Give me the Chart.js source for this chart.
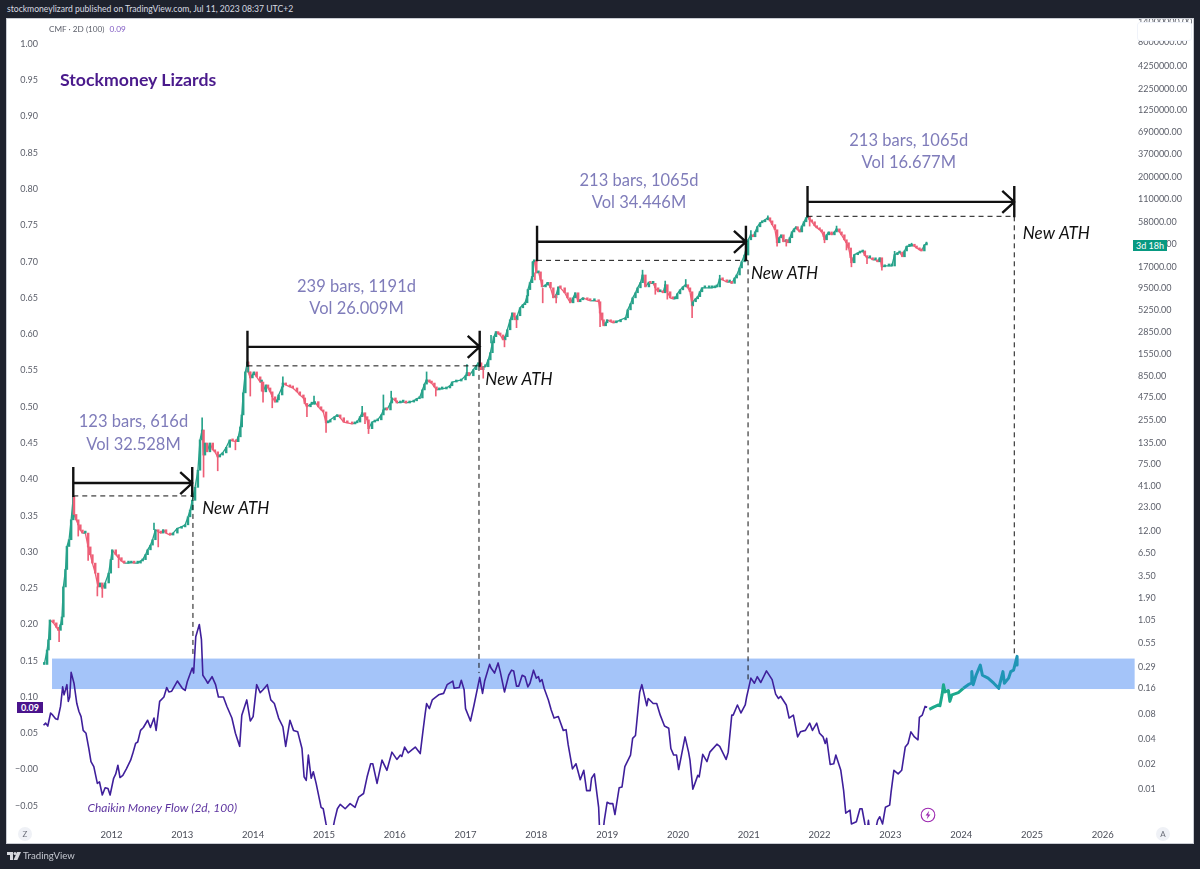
<!DOCTYPE html>
<html>
<head>
<meta charset="utf-8">
<title>Stockmoney Lizards</title>
<script src="https://cdn.jsdelivr.net/npm/chart.js@4"></script>
<style>
  html, body { margin: 0; padding: 0; width: 1200px; height: 869px; overflow: hidden; background: #1e222d; font-family: Lato, sans-serif; }
  #head { position: absolute; left: 7px; top: 4px; color: #d8dbe2; font-size: 8.6px; white-space: nowrap; }
  #panel { position: absolute; left: 7px; top: 19px; width: 1186px; height: 824px; background: #fff; box-shadow: 0 0 0 1px #c9ccd3; overflow: hidden; }
  #panel canvas { position: absolute; left: 0; top: 0; }
  #foot { position: absolute; left: 23px; top: 850px; color: #c4c7cf; font-size: 9.6px; }
  #logo { position: absolute; left: 7px; top: 852px; }
  .abs { position: absolute; }
  #legend { left: 42px; top: 5px; font-size: 8.2px; color: #5d606b; white-space: nowrap; }
  #legend span { color: #7e57c2; margin-left: 5px; }
  #brand { left: 53px; top: 50px; font-size: 17.7px; font-weight: 700; color: #4a1a8c; white-space: nowrap; }
  #tagCmf { left: 10px; top: 683px; width: 26px; height: 11px; line-height: 11px; background: #4a148c; color: #fff; font-size: 9px; font-weight: 700; text-align: center; }
  #tagTime { left: 1126px; top: 221px; width: 34px; height: 11px; line-height: 11px; background: #089981; color: #fff; font-size: 9px; text-align: center; }
  #topBox { left: 1130px; top: 3px; width: 53px; height: 17px; background: #fff; border: 1px solid #f0f3fa; border-radius: 3px; }
  .round { width: 14px; height: 14px; line-height: 14px; border-radius: 7px; background: #eff1f6; color: #6a6d78; font-size: 8px; text-align: center; }
</style>
</head>
<body>
<div id="head">stockmoneylizard published on TradingView.com, Jul 11, 2023 08:37 UTC+2</div>
<div id="panel">
  <canvas id="mycanvas" width="1186" height="824"></canvas>
  <div class="abs" id="legend">CMF · 2D (100)<span>0.09</span></div>
  <div class="abs" id="brand">Stockmoney Lizards</div>
  <div class="abs" id="tagCmf">0.09</div>
  <div class="abs" id="topBox"></div>
  <div class="abs" id="tagTime">3d 18h</div>
  <div class="abs round" style="left:11px;top:808px">Z</div>
  <div class="abs round" style="left:1149px;top:808px">A</div>
  <svg class="abs" style="left:913px;top:788px" width="16" height="16" viewBox="0 0 16 16">
    <circle cx="8" cy="8" r="6.8" fill="#fff" stroke="#9c27b0" stroke-width="1.1"/>
    <path d="M9.2 3.8 L5.6 8.6 H7.8 L6.8 12.2 L10.4 7.4 H8.2 Z" fill="#9c27b0"/>
  </svg>
</div>
<svg id="logo" width="14" height="9" viewBox="0 0 14 9">
  <path d="M0 0 H6 V8 H3 V3 H0 Z" fill="#d6d8de"/>
  <circle cx="8" cy="1.6" r="1.5" fill="#d6d8de"/>
  <path d="M10 0 H14 L10.4 8 H6.6 Z" fill="#d6d8de"/>
</svg>
<div id="foot">TradingView</div>

<script>
// axis labels
var yearTicks = [2012, 2013, 2014, 2015, 2016, 2017, 2018, 2019, 2020, 2021, 2022, 2023, 2024, 2025, 2026];
var cmfTicks = [1, 0.95, 0.9, 0.85, 0.8, 0.75, 0.7, 0.65, 0.6, 0.55, 0.5, 0.45, 0.4, 0.35, 0.3, 0.25, 0.2, 0.15, 0.1, 0.05, 0, -0.05];
var priceTicks = [14000000, 8000000, 4250000, 2250000, 1250000, 690000, 370000, 200000, 110000, 58000, 32000, 17000, 9500, 5250, 2850, 1550, 850, 475, 255, 135, 75, 41, 23, 12, 6.5, 3.5, 1.9, 1.05, 0.55, 0.29, 0.16, 0.08, 0.04, 0.02, 0.01];

// price candles, each one opens at the close before it
var candleYears = [
  2011.05,2011.09,2011.11,2011.13,2011.18,2011.22,2011.25,2011.28,2011.30,2011.32,
  2011.35,2011.37,2011.40,2011.43,2011.46,2011.47,2011.50,2011.53,2011.56,2011.59,
  2011.63,2011.67,2011.70,2011.73,2011.77,2011.81,2011.84,2011.87,2011.91,2011.96,
  2011.99,2012.01,2012.06,2012.10,2012.14,2012.18,2012.24,2012.28,2012.32,2012.37,
  2012.41,2012.44,2012.48,2012.51,2012.55,2012.58,2012.62,2012.66,2012.70,2012.73,
  2012.77,2012.83,2012.87,2012.93,2012.99,2013.04,2013.08,2013.11,2013.14,2013.18,
  2013.22,2013.25,2013.28,2013.30,2013.32,2013.35,2013.39,2013.43,2013.46,2013.50,
  2013.53,2013.57,2013.62,2013.67,2013.71,2013.76,2013.79,2013.82,2013.84,2013.86,
  2013.89,2013.92,2013.93,2013.96,2013.99,2014.01,2014.05,2014.10,2014.12,2014.14,
  2014.18,2014.21,2014.24,2014.27,2014.31,2014.34,2014.36,2014.41,2014.42,2014.46,
  2014.52,2014.56,2014.62,2014.66,2014.71,2014.73,2014.76,2014.81,2014.83,2014.87,
  2014.92,2014.96,2014.99,2015.03,2015.06,2015.09,2015.15,2015.19,2015.23,2015.28,
  2015.33,2015.40,2015.44,2015.47,2015.51,2015.54,2015.58,2015.61,2015.63,2015.68,
  2015.72,2015.76,2015.81,2015.84,2015.87,2015.89,2015.94,2015.96,2016.01,2016.03,
  2016.08,2016.12,2016.16,2016.21,2016.27,2016.31,2016.35,2016.39,2016.42,2016.45,
  2016.49,2016.52,2016.56,2016.59,2016.63,2016.67,2016.73,2016.78,2016.81,2016.87,
  2016.94,2017.00,2017.02,2017.05,2017.11,2017.15,2017.18,2017.22,2017.25,2017.28,
  2017.32,2017.35,2017.38,2017.40,2017.43,2017.46,2017.49,2017.53,2017.56,2017.59,
  2017.63,2017.66,2017.69,2017.70,2017.73,2017.77,2017.81,2017.84,2017.87,2017.88,
  2017.91,2017.94,2017.95,2017.97,2018.00,2018.03,2018.06,2018.08,2018.13,2018.16,
  2018.20,2018.24,2018.28,2018.31,2018.34,2018.40,2018.44,2018.48,2018.52,2018.55,
  2018.59,2018.62,2018.66,2018.72,2018.76,2018.82,2018.88,2018.90,2018.93,2018.95,
  2018.98,2019.00,2019.05,2019.09,2019.13,2019.19,2019.26,2019.29,2019.33,2019.36,
  2019.40,2019.43,2019.47,2019.50,2019.54,2019.59,2019.61,2019.65,2019.68,2019.72,
  2019.75,2019.79,2019.82,2019.85,2019.89,2019.93,2019.96,2019.99,2020.03,2020.07,
  2020.11,2020.14,2020.17,2020.20,2020.21,2020.25,2020.28,2020.31,2020.34,2020.38,
  2020.44,2020.48,2020.52,2020.55,2020.59,2020.63,2020.69,2020.73,2020.76,2020.80,
  2020.83,2020.87,2020.90,2020.94,2020.99,2021.03,2021.06,2021.09,2021.12,2021.16,
  2021.19,2021.23,2021.27,2021.30,2021.33,2021.37,2021.40,2021.43,2021.46,2021.49,
  2021.53,2021.55,2021.58,2021.61,2021.64,2021.67,2021.69,2021.72,2021.75,2021.78,
  2021.81,2021.83,2021.86,2021.89,2021.93,2021.96,2022.00,2022.03,2022.06,2022.07,
  2022.10,2022.13,2022.17,2022.21,2022.24,2022.28,2022.31,2022.35,2022.38,2022.41,
  2022.44,2022.45,2022.49,2022.54,2022.57,2022.61,2022.64,2022.67,2022.71,2022.75,
  2022.79,2022.82,2022.85,2022.88,2022.92,2022.98,2023.02,2023.06,2023.10,2023.13,
  2023.17,2023.20,2023.23,2023.27,2023.30,2023.34,2023.37,2023.41,2023.44,2023.48,2023.51
];
var candleCloses = [
  0.31,0.46,0.61,1.05,0.97,0.86,0.79,0.92,1.14,2.6,
  4.2,7.9,9.5,16.4,31,19,16.4,14.3,12.4,11.4,
  11.4,7.8,6.3,5,3.8,2.6,2.9,2.5,2.9,3.8,
  5.5,7.2,6.3,5.8,5.3,5,5,5.1,5,5,
  5.3,5.5,6.3,7.2,8.2,9.5,12.5,11.8,11.4,12.5,
  11.4,10.8,11.4,13,13.5,14.3,17.8,21.5,28,40,
  64,147,193,97,135,106,135,112,106,92,
  97,103,120,147,143,140,160,210,292,535,
  950,1250,950,806,875,950,830,720,720,550,
  665,612,550,480,415,441,505,630,700,665,
  630,612,550,505,465,400,365,392,392,420,
  365,335,317,235,240,255,278,292,270,240,
  235,228,235,240,278,310,278,255,200,240,
  248,255,292,335,345,335,405,465,430,405,
  415,415,405,415,430,455,465,580,680,764,
  720,700,630,580,595,595,612,650,720,740,
  764,855,935,855,1010,1120,1220,1010,1095,1095,
  1323,1610,2110,2500,2870,2700,2620,2290,2500,3020,
  3970,4800,4320,3970,4440,5520,6010,6340,7680,9100,
  11000,13000,19500,20300,14400,14800,11900,9800,10300,11100,
  9550,7260,7900,9800,9550,8340,7260,6330,7260,8340,
  6520,6880,7260,6880,6700,6700,6520,4800,3970,3370,
  3660,3970,3760,3660,3760,3970,4200,5220,6150,7260,
  8340,9550,11000,13600,9800,11200,10800,10800,9550,8570,
  8800,8340,10400,8570,7260,7070,7070,8100,9040,9800,
  10400,9550,8570,5830,6520,7070,7500,8570,9550,9550,
  9550,9550,9800,9800,12200,11900,11200,11200,10800,12500,
  13600,16500,19500,23500,35700,40900,38800,44300,51000,56900,
  58500,61800,65300,60000,54000,47000,32900,37800,40900,33800,
  35700,32900,37800,44300,48200,51000,47000,44300,52000,58500,
  65300,67300,61800,58500,52500,49600,47000,44300,38800,35700,
  40900,44300,40900,44300,48200,44300,40900,35700,32900,28500,
  21800,19000,23700,24800,25500,26300,23100,21800,21800,20600,
  20600,19500,21800,17000,17400,17400,17400,23700,24800,25500,
  22400,26300,29900,29900,30800,29900,28500,27100,26300,31000,31800
];

// wicks that stand out
var upWickYears = [2012.60, 2013.28, 2013.93, 2014.42, 2014.86, 2015.54, 2015.84, 2015.95, 2016.45, 2017.02, 2017.36, 2019.50, 2019.82, 2020.11, 2020.59, 2021.03, 2021.27, 2021.83, 2022.24, 2023.06, 2023.30, 2023.51];
var upWickLows = [12.5, 193, 950, 700, 392, 310, 335, 465, 764, 935, 2110, 13600, 10400, 10400, 12200, 40900, 65300, 67300, 48200, 23700, 30800, 31800];
var upWickHighs = [15, 270, 1150, 830, 490, 370, 505, 560, 950, 1160, 2600, 15500, 11500, 12000, 13500, 46000, 69000, 70000, 52000, 26000, 32500, 33500];
var downWickYears = [2011.26, 2011.53, 2011.67, 2011.80, 2011.87, 2012.10, 2012.66, 2013.30, 2013.50, 2013.75, 2013.96, 2014.12, 2014.14, 2014.27, 2014.76, 2015.03, 2015.58, 2015.63, 2016.58, 2017.25, 2017.55, 2017.72, 2017.98, 2018.09, 2018.28, 2018.90, 2019.68, 2019.85, 2020.20, 2021.40, 2021.53, 2021.86, 2022.07, 2022.38, 2022.45, 2022.67, 2022.88];
var downWickLows = [0.58, 10.5, 5.4, 2.03, 1.95, 4.4, 7.8, 53, 63, 112, 490, 560, 415, 355, 278, 180, 230, 175, 490, 800, 1890, 3200, 11900, 6330, 6300, 3300, 8000, 7000, 4200, 30000, 30000, 52000, 32900, 27000, 17000, 18500, 15500];
var downWickHighs = [0.79, 14.3, 7.8, 2.6, 2.5, 5.8, 11.8, 97, 92, 140, 950, 720, 550, 480, 365, 235, 278, 200, 580, 1095, 2290, 3970, 14400, 9400, 7900, 4800, 9550, 8570, 5830, 32900, 35700, 61800, 35700, 32900, 19000, 21800, 17000];

// Chaikin Money Flow
var cmfYears = [
  2011.04,2011.07,2011.10,2011.14,2011.17,2011.21,2011.24,2011.28,2011.31,2011.33,2011.37,2011.39,2011.41,2011.43,2011.47,2011.51,2011.54,2011.57,2011.60,2011.64,
  2011.68,2011.71,2011.75,2011.80,2011.83,2011.87,2011.91,2011.95,2011.98,2012.03,2012.06,2012.09,2012.12,2012.16,2012.21,2012.27,2012.30,2012.34,2012.37,2012.41,
  2012.45,2012.51,2012.55,2012.60,2012.63,2012.68,2012.74,2012.78,2012.81,2012.85,2012.93,2013.00,2013.04,2013.07,2013.14,2013.16,2013.19,2013.24,2013.27,2013.29,
  2013.33,2013.36,2013.42,2013.47,2013.51,2013.58,2013.63,2013.70,2013.75,2013.81,2013.84,2013.91,2013.96,2014.00,2014.05,2014.10,2014.14,2014.20,2014.25,2014.30,
  2014.36,2014.42,2014.46,2014.52,2014.57,2014.63,2014.69,2014.72,2014.75,2014.78,2014.82,2014.85,2014.89,2014.96,2014.99,2015.03,2015.07,2015.11,2015.15,2015.19,
  2015.23,2015.30,2015.37,2015.44,2015.49,2015.56,2015.61,2015.66,2015.69,2015.75,2015.82,2015.89,2015.96,2016.03,2016.08,2016.10,2016.14,2016.19,2016.29,2016.36,
  2016.40,2016.43,2016.45,2016.49,2016.53,2016.62,2016.69,2016.74,2016.82,2016.84,2016.91,2016.94,2016.98,2017.00,2017.07,2017.12,2017.20,2017.24,2017.27,2017.34,
  2017.36,2017.41,2017.46,2017.49,2017.55,2017.61,2017.65,2017.68,2017.72,2017.75,2017.80,2017.84,2017.88,2017.91,2017.96,2018.00,2018.03,2018.05,2018.08,2018.11,
  2018.17,2018.21,2018.25,2018.31,2018.38,2018.42,2018.45,2018.51,2018.56,2018.62,2018.67,2018.71,2018.76,2018.78,2018.82,2018.88,2018.89,2018.90,2018.94,2018.96,
  2019.00,2019.04,2019.08,2019.11,2019.17,2019.21,2019.25,2019.33,2019.36,2019.40,2019.46,2019.49,2019.56,2019.58,2019.65,2019.70,2019.75,2019.81,2019.87,2019.90,
  2019.94,2019.98,2020.01,2020.05,2020.10,2020.15,2020.17,2020.21,2020.24,2020.28,2020.30,2020.35,2020.41,2020.45,2020.55,2020.59,2020.68,2020.71,2020.76,2020.78,
  2020.84,2020.89,2020.95,2020.97,2021.03,2021.08,2021.12,2021.17,2021.25,2021.33,2021.38,2021.42,2021.45,2021.53,2021.57,2021.63,2021.69,2021.73,2021.80,2021.86,
  2021.90,2021.96,2022.00,2022.05,2022.08,2022.10,2022.15,2022.20,2022.23,2022.30,2022.34,2022.37,2022.43,2022.45,2022.52,2022.57,2022.60,2022.64,2022.67,2022.69,
  2022.71,2022.78,2022.82,2022.85,2022.89,2022.93,2022.99,2023.01,2023.05,2023.11,2023.16,2023.21,2023.25,2023.29,2023.34,2023.39,2023.41,2023.45,2023.49,2023.52
];
var cmfValues = [
  0.061,0.064,0.060,0.078,0.075,0.070,0.069,0.087,0.114,0.103,0.117,0.094,0.100,0.134,0.119,0.091,0.080,0.073,0.054,0.050,
  0.029,0.011,0.004,-0.019,-0.017,-0.035,-0.025,-0.026,-0.035,-0.012,-0.006,0.006,-0.011,-0.008,0.001,0.013,0.022,0.036,0.038,0.054,
  0.058,0.068,0.058,0.071,0.054,0.094,0.100,0.113,0.107,0.108,0.122,0.112,0.109,0.121,0.140,0.133,0.183,0.200,0.179,0.130,
  0.124,0.119,0.128,0.117,0.100,0.100,0.087,0.071,0.050,0.032,0.075,0.096,0.067,0.073,0.117,0.106,0.110,0.117,0.096,0.091,
  0.071,0.059,0.032,0.068,0.054,0.052,0.029,-0.010,-0.015,0.020,-0.012,-0.003,-0.019,-0.052,-0.054,-0.075,-0.090,-0.090,-0.070,-0.054,
  -0.048,-0.054,-0.047,-0.052,-0.038,-0.033,-0.010,0.008,0.008,-0.019,0.013,-0.001,0.024,0.014,0.020,0.018,0.031,0.023,0.031,0.022,
  0.054,0.077,0.091,0.084,0.096,0.103,0.105,0.117,0.122,0.112,0.113,0.123,0.110,0.084,0.067,0.089,0.127,0.105,0.122,0.145,
  0.140,0.133,0.147,0.135,0.107,0.130,0.137,0.136,0.115,0.115,0.130,0.128,0.114,0.119,0.137,0.126,0.128,0.121,0.124,0.112,
  0.096,0.082,0.071,0.073,0.054,0.055,0.034,0.001,0.008,-0.014,-0.001,-0.029,-0.029,-0.012,-0.006,-0.052,-0.076,-0.088,-0.088,-0.070,
  -0.045,-0.047,-0.047,-0.062,-0.025,-0.024,0.004,0.020,0.043,0.047,0.107,0.117,0.088,0.098,0.091,0.091,0.075,0.060,0.057,0.029,
  0.020,0.020,0.000,0.020,0.045,0.024,0.013,-0.027,-0.019,-0.008,-0.010,0.021,0.011,0.024,0.035,0.032,0.014,0.024,0.075,0.075,
  0.089,0.078,0.089,0.100,0.126,0.119,0.128,0.120,0.136,0.124,0.104,0.098,0.101,0.089,0.071,0.075,0.045,0.052,0.054,0.064,
  0.054,0.064,0.050,0.045,0.036,0.043,0.007,0.008,0.020,-0.001,-0.029,-0.060,-0.056,-0.075,-0.072,-0.054,-0.054,-0.075,-0.088,-0.070,
  -0.088,-0.088,-0.070,-0.065,-0.075,-0.052,-0.049,-0.031,-0.001,-0.006,-0.001,0.031,0.036,0.052,0.045,0.041,0.072,0.075,0.087,0.086
];

// projected fractal after the last bar
var greenYears = [2023.55, 2023.61, 2023.68, 2023.70, 2023.73, 2023.75, 2023.77, 2023.82, 2023.84, 2023.87, 2023.96, 2024.03];
var greenValues = [0.083, 0.086, 0.089, 0.088, 0.103, 0.117, 0.107, 0.109, 0.094, 0.103, 0.106, 0.112];
var blueYears = [2024.03, 2024.10, 2024.14, 2024.15, 2024.17, 2024.21, 2024.27, 2024.30, 2024.38, 2024.46, 2024.53, 2024.59, 2024.61, 2024.67, 2024.70, 2024.74, 2024.79, 2024.79];
var blueValues = [0.112, 0.117, 0.119, 0.135, 0.117, 0.130, 0.144, 0.130, 0.126, 0.119, 0.112, 0.135, 0.119, 0.126, 0.135, 0.137, 0.156, 0.144];

// blue CMF zone
var zoneYears = [2011.16, 2026.45];
var zoneValues = [0.111, 0.153];

// measured ranges between all time highs
var rangeStartYears = [2011.46, 2013.92, 2018.01, 2021.83];
var rangeEndYears = [2013.14, 2017.20, 2020.96, 2024.75];
var rangeArrowPrices = [45, 1890, 33800, 101000];
var rangeAthPrices = [31.6, 1122, 20300, 68000];
var dropYears = [2013.15, 2017.19, 2020.99, 2024.75];
var dropCmfEnds = [0.156, 0.133, 0.119, 0.155];

var rangeLabelYears = [2012.31, 2015.46, 2019.45, 2023.26];
var rangeBarPrices = [240, 9900, 180000, 540000];
var rangeBarLabels = ["123 bars, 616d", "239 bars, 1191d", "213 bars, 1065d", "213 bars, 1065d"];
var rangeVolPrices = [128, 5400, 99000, 296000];
var rangeVolLabels = ["Vol 32.528M", "Vol 26.009M", "Vol 34.446M", "Vol 16.677M"];
var athLabelYears = [2013.28, 2017.28, 2021.03, 2024.87];
var athLabelPrices = [22.1, 765, 14000, 42100];

function pairs(xs, ys) {
    return xs.map(function (x, i) { return { x: x, y: ys[i] }; });
}

var candleData = candleYears.map(function (year, i) {
    var open = i > 0 ? candleCloses[i - 1] : candleCloses[0];
    return { x: year, y: [open, candleCloses[i]], up: candleCloses[i] >= open };
});

function wickData(years, lows, highs) {
    return years.map(function (year, i) { return { x: year, y: [lows[i], highs[i]] }; });
}

var upColor = "#27a28a";
var downColor = "#ee5f77";
var cmfColor = "#3f1f9b";

// zone, ranges and annotation texts, all placed through the chart scales
var overlays = {
    id: "overlays",
    beforeDatasetsDraw: function (chart) {
        var x = chart.scales.x, cmf = chart.scales.y;
        var ctx = chart.ctx;
        ctx.save();
        ctx.fillStyle = "#a4c4f9";
        var left = x.getPixelForValue(zoneYears[0]);
        var right = x.getPixelForValue(zoneYears[1]);
        var top = cmf.getPixelForValue(zoneValues[1]);
        var bottom = cmf.getPixelForValue(zoneValues[0]);
        ctx.fillRect(left, top, right - left, bottom - top);
        ctx.restore();
    },
    afterDatasetsDraw: function (chart) {
        var x = chart.scales.x, cmf = chart.scales.y, price = chart.scales.yPrice;
        var ctx = chart.ctx;
        ctx.save();
        rangeStartYears.forEach(function (start, i) {
            var x0 = x.getPixelForValue(start);
            var x1 = x.getPixelForValue(rangeEndYears[i]);
            var yArrow = price.getPixelForValue(rangeArrowPrices[i]);
            var yAth = price.getPixelForValue(rangeAthPrices[i]);
            var xDrop = x.getPixelForValue(dropYears[i]);

            ctx.strokeStyle = "#111";
            ctx.lineWidth = 1;
            ctx.setLineDash([5, 4]);
            ctx.beginPath();
            ctx.moveTo(x0, yAth);
            ctx.lineTo(xDrop, yAth);
            ctx.moveTo(xDrop, yAth);
            ctx.lineTo(xDrop, cmf.getPixelForValue(dropCmfEnds[i]));
            ctx.stroke();

            ctx.setLineDash([]);
            ctx.lineWidth = 2.4;
            ctx.beginPath();
            ctx.moveTo(x0, yArrow - 16);
            ctx.lineTo(x0, yAth + 1);
            ctx.moveTo(x1, yArrow - 16);
            ctx.lineTo(x1, yAth + 1);
            ctx.moveTo(x0, yArrow);
            ctx.lineTo(x1, yArrow);
            ctx.moveTo(x1 - 12, yArrow - 11);
            ctx.lineTo(x1, yArrow);
            ctx.lineTo(x1 - 12, yArrow + 11);
            ctx.stroke();

            ctx.textBaseline = "middle";
            ctx.textAlign = "center";
            ctx.fillStyle = "#7f7cba";
            ctx.font = "16.5px Lato, sans-serif";
            var xLabel = x.getPixelForValue(rangeLabelYears[i]);
            ctx.fillText(rangeBarLabels[i], xLabel, price.getPixelForValue(rangeBarPrices[i]));
            ctx.fillText(rangeVolLabels[i], xLabel, price.getPixelForValue(rangeVolPrices[i]));

            ctx.textAlign = "left";
            ctx.fillStyle = "#111";
            ctx.font = "italic 17px Lato, sans-serif";
            ctx.fillText("New ATH", x.getPixelForValue(athLabelYears[i]), price.getPixelForValue(athLabelPrices[i]));
        });
        ctx.textAlign = "left";
        ctx.fillStyle = "#5e35a0";
        ctx.font = "italic 12px Lato, sans-serif";
        ctx.fillText("Chaikin Money Flow (2d, 100)", x.getPixelForValue(2011.66), cmf.getPixelForValue(-0.053));
        ctx.restore();
    }
};

// the label overhang must not push the plot area in
function noPadding(scale) {
    scale.paddingTop = 0;
    scale.paddingBottom = 0;
    scale.paddingLeft = 0;
    scale.paddingRight = 0;
}

var chart = new Chart(document.getElementById("mycanvas"), {
    type: "bar",
    plugins: [overlays],
    data: {
        datasets: [
            {
                label: "Up wicks",
                data: wickData(upWickYears, upWickLows, upWickHighs),
                yAxisID: "yPrice",
                grouped: false,
                barThickness: 1,
                backgroundColor: upColor
            },
            {
                label: "Down wicks",
                data: wickData(downWickYears, downWickLows, downWickHighs),
                yAxisID: "yPrice",
                grouped: false,
                barThickness: 1,
                backgroundColor: downColor
            },
            {
                label: "Price",
                data: candleData,
                yAxisID: "yPrice",
                grouped: false,
                barThickness: 1.8,
                minBarLength: 2,
                backgroundColor: function (c) {
                    return c.raw && c.raw.up ? upColor : downColor;
                }
            },
            {
                // closes joined up, so neighbouring candles read as one dense run
                type: "line",
                label: "Closes",
                data: pairs(candleYears, candleCloses),
                yAxisID: "yPrice",
                borderWidth: 1.3,
                borderJoinStyle: "round",
                pointRadius: 0,
                tension: 0,
                segment: {
                    borderColor: function (c) {
                        return c.p1.parsed.y >= c.p0.parsed.y ? upColor : downColor;
                    }
                }
            },
            {
                type: "line",
                label: "CMF",
                data: pairs(cmfYears, cmfValues),
                yAxisID: "y",
                borderColor: cmfColor,
                borderWidth: 1.6,
                borderJoinStyle: "round",
                pointRadius: 0,
                tension: 0
            },
            {
                type: "line",
                label: "Projection start",
                data: pairs(greenYears, greenValues),
                yAxisID: "y",
                borderColor: "#1ca98c",
                borderWidth: 3,
                borderJoinStyle: "round",
                pointRadius: 0,
                tension: 0
            },
            {
                type: "line",
                label: "Projection end",
                data: pairs(blueYears, blueValues),
                yAxisID: "y",
                borderColor: "#1f95b5",
                borderWidth: 3,
                borderJoinStyle: "round",
                pointRadius: 0,
                tension: 0
            }
        ]
    },
    options: {
        responsive: false,
        animation: false,
        layout: { padding: { top: 1 } },
        plugins: {
            legend: { display: false },
            title: { display: false },
            tooltip: { enabled: false }
        },
        scales: {
            x: {
                type: "linear",
                offset: false,
                min: 2010.99,
                max: 2026.455,
                grid: { display: false, drawTicks: false },
                border: { display: false },
                afterBuildTicks: function (scale) {
                    scale.ticks = yearTicks.map(function (v) { return { value: v }; });
                },
                afterFit: function (scale) { scale.height = 18; noPadding(scale); },
                ticks: {
                    autoSkip: false,
                    maxRotation: 0,
                    padding: 4,
                    color: "#4a4d58",
                    font: { family: "Lato, sans-serif", size: 9.5 },
                    callback: function (v) { return String(v); }
                }
            },
            y: {
                type: "linear",
                position: "left",
                min: -0.0764,
                max: 1.0331,
                grid: { display: false, drawTicks: false },
                border: { display: false },
                afterBuildTicks: function (scale) {
                    scale.ticks = cmfTicks.map(function (v) { return { value: v }; });
                },
                afterFit: function (scale) { scale.width = 33; noPadding(scale); },
                ticks: {
                    autoSkip: false,
                    padding: 2,
                    color: "#5d606b",
                    font: { family: "Lato, sans-serif", size: 9 },
                    callback: function (v) {
                        return v <= 0 ? "\u2212" + Math.abs(v).toFixed(2) : v.toFixed(2);
                    }
                }
            },
            yPrice: {
                type: "logarithmic",
                position: "right",
                min: 0.00378,
                max: 14870000,
                grid: { display: false, drawTicks: false },
                border: { display: false },
                afterBuildTicks: function (scale) {
                    scale.ticks = priceTicks.map(function (v) { return { value: v }; });
                },
                afterFit: function (scale) { scale.width = 58; noPadding(scale); },
                ticks: {
                    autoSkip: false,
                    padding: 3,
                    color: "#5d606b",
                    font: { family: "Lato, sans-serif", size: 9 },
                    callback: function (v) { return Number(v).toFixed(2); }
                }
            }
        }
    }
});
</script>
</body>
</html>
